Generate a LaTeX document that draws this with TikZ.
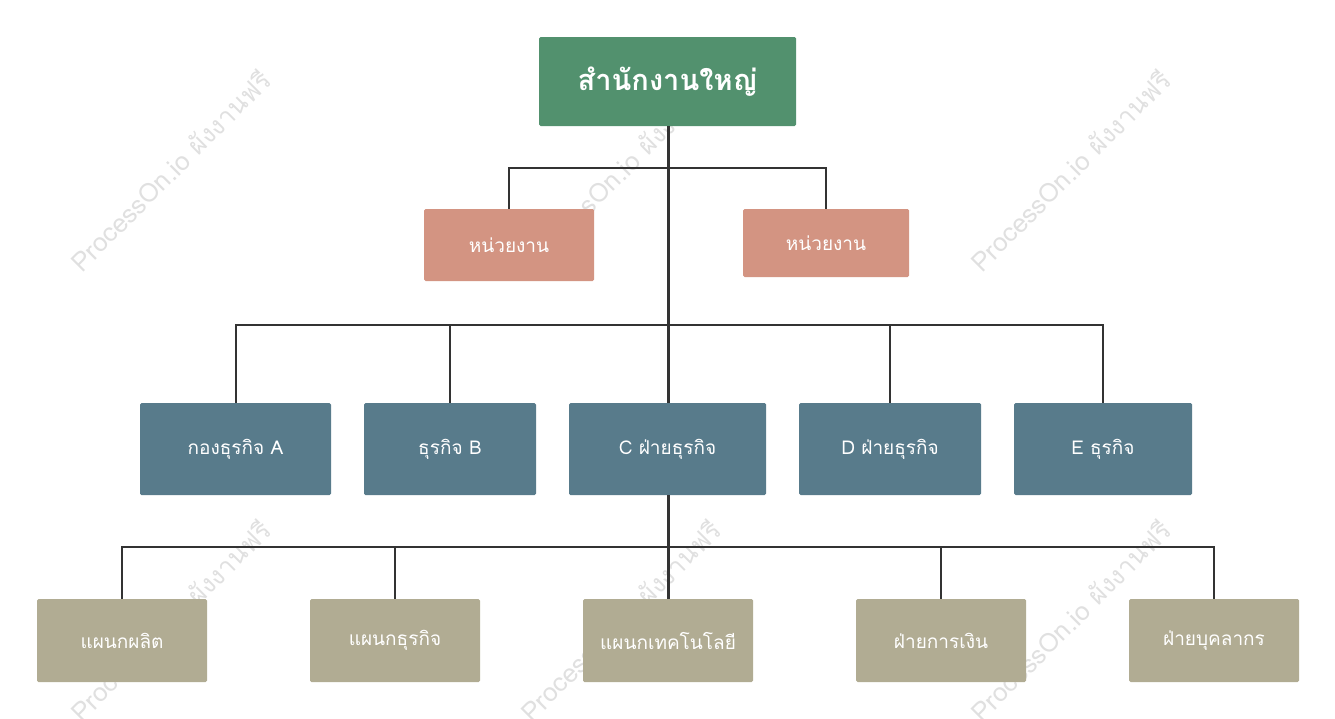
\documentclass[tikz,border=0pt]{standalone}
\usepackage{fontspec}
\newfontfamily\thaifont[Script=Thai]{Loma}
\definecolor{hq}{RGB}{82,145,110}
\definecolor{unit}{RGB}{211,148,130}
\definecolor{biz}{RGB}{88,123,139}
\definecolor{dept}{RGB}{177,172,147}
\definecolor{wire}{RGB}{51,51,51}
\definecolor{wm}{RGB}{224,224,224}
\tikzset{
  box/.style={rounded corners=1.5pt, inner sep=0pt, text=white, font=\thaifont\fontsize{19}{22}\selectfont, align=center},
  hqbox/.style={box, fill=hq, font=\thaifont\bfseries\fontsize{29}{32}\selectfont},
  unitbox/.style={box, fill=unit},
  bizbox/.style={box, fill=biz},
  deptbox/.style={box, fill=dept},
  wire/.style={draw=wire, line width=2pt},
  trunk/.style={draw=wire, line width=3pt},
  wmark/.style={text=wm, rotate=45, font=\thaifont\fontsize{26}{30}\selectfont}
}
\begin{document}
\begin{tikzpicture}[x=1pt,y=-1pt]
\useasboundingbox (0,0) rectangle (1335,718);
% watermarks
\foreach \cx in {170,620,1070}{
  \foreach \cy in {170,620}{
    \node[wmark] at (\cx,\cy) {ProcessOn.io ผังงานฟรี};
  }
}
% boxes
\node[hqbox, minimum width=257pt, minimum height=89pt] (hq) at (667.5,81.5) {สำนักงานใหญ่};
\node[unitbox, minimum width=170pt, minimum height=72pt] (u1) at (509,245) {หน่วยงาน};
\node[unitbox, minimum width=166pt, minimum height=68pt] (u2) at (826,243) {หน่วยงาน};
\node[bizbox, minimum width=191pt, minimum height=92pt] (ba) at (235.5,449) {กองธุรกิจ A};
\node[bizbox, minimum width=172pt, minimum height=92pt] (bb) at (450,449) {ธุรกิจ B};
\node[bizbox, minimum width=197pt, minimum height=92pt] (bc) at (667.5,449) {C ฝ่ายธุรกิจ};
\node[bizbox, minimum width=182pt, minimum height=92pt] (bd) at (890,449) {D ฝ่ายธุรกิจ};
\node[bizbox, minimum width=178pt, minimum height=92pt] (be) at (1103,449) {E ธุรกิจ};
\node[deptbox, minimum width=170pt, minimum height=83pt] (d1) at (122,640.5) {แผนกผลิต};
\node[deptbox, minimum width=170pt, minimum height=83pt] (d2) at (395,640.5) {แผนกธุรกิจ};
\node[deptbox, minimum width=170pt, minimum height=83pt] (d3) at (668,640.5) {แผนกเทคโนโลยี};
\node[deptbox, minimum width=170pt, minimum height=83pt] (d4) at (941,640.5) {ฝ่ายการเงิน};
\node[deptbox, minimum width=170pt, minimum height=83pt] (d5) at (1214,640.5) {ฝ่ายบุคลากร};
% junction coordinates
\coordinate (j1) at (668,168);
\coordinate (j2) at (668,325);
\coordinate (j3) at (668,547);
% connectors
\draw[trunk] (hq.south -| j1) -- (bc.north -| j1);
\draw[wire] (u1.north) |- (j1) -| (u2.north);
\draw[wire] (ba.north) |- (j2) -| (be.north);
\draw[wire] (bb.north) |- (j2);
\draw[wire] (bd.north) |- (j2);
\draw[trunk] (bc.south -| j3) -- (d3.north);
\draw[wire] (d1.north) |- (j3) -| (d5.north);
\draw[wire] (d2.north) |- (j3);
\draw[wire] (d4.north) |- (j3);
\end{tikzpicture}
\end{document}
